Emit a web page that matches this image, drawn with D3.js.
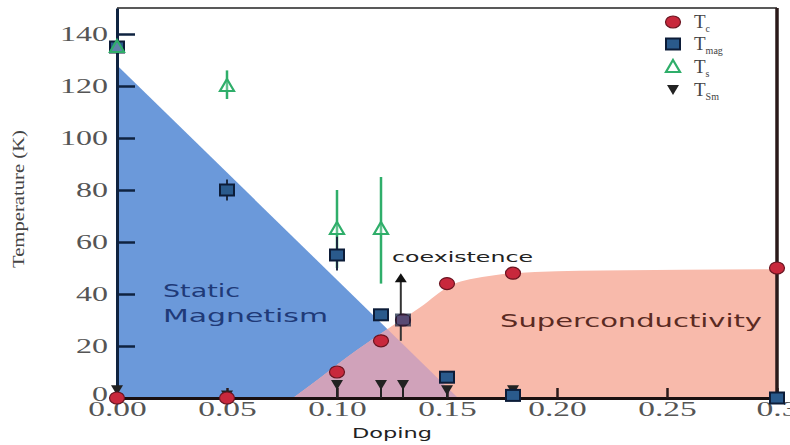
<!DOCTYPE html>
<html>
<head>
<meta charset="utf-8">
<script src="https://cdn.jsdelivr.net/npm/d3@7"></script>
<style>
  html, body { margin: 0; padding: 0; background: #fff; }
  svg { display: block; }
</style>
</head>
<body>
<svg id="chart" width="790" height="445"></svg>
<script>
// Phase diagram: temperature vs doping
const xTicks = [0, 0.05, 0.10, 0.15, 0.20, 0.25, 0.30];
const xTickLabels = ["0.00", "0.05", "0.10", "0.15", "0.20", "0.25", "0.3"];
const yTicks = [0, 20, 40, 60, 80, 100, 120, 140];

// Superconducting transition Tc
const tcDoping = [0, 0.05, 0.10, 0.12, 0.13, 0.15, 0.18, 0.30];
const tcTemp   = [0, 0, 10, 22, 30, 44, 48, 50];

// Magnetic ordering Tmag
const tmagDoping = [0, 0.05, 0.10, 0.12, 0.13, 0.15, 0.18, 0.30];
const tmagTemp   = [135, 80, 55, 32, 30, 8, 1, 0];
const tmagErrLow  = [135, 76, 49, 32, 30, 8, 1, 0];
const tmagErrHigh = [135, 84, 62, 32, 30, 8, 1, 0];

// Structural transition Ts
const tsDoping = [0, 0.05, 0.10, 0.12];
const tsTemp   = [135, 120, 65, 65];
const tsErrLow  = [135, 115, 50, 44];
const tsErrHigh = [135, 126, 80, 85];

// Tsm
const tsmDoping = [0, 0.05, 0.10, 0.12, 0.13, 0.15, 0.18];
const tsmTemp   = [3, 1, 5, 5, 5, 3, 3];

// Phase regions (doping, temperature)
const magnetismRegion = [[0, 0], [0, 128], [0.155, 0]];
const scEdge = [[0.08, 0], [0.088, 5], [0.105, 16], [0.122, 26], [0.138, 35], [0.151, 43],
                [0.166, 46.5], [0.18, 48], [0.22, 49], [0.3, 49.5]];

// Coexistence arrow
const coexDoping = 0.129;
const coexFrom = 22;
const coexTo = 48;

const legendLabels = [["T", "c"], ["T", "mag"], ["T", "s"], ["T", "Sm"]];

const svg = d3.select("#chart");
const x = d3.scaleLinear().domain([0, 0.3]).range([117, 777]);
const y = d3.scaleLinear().domain([0, 150]).range([398, 8]);

const area = d3.line().x(d => x(d[0])).y(d => y(d[1]));
const scCurve = d3.line().x(d => x(d[0])).y(d => y(d[1])).curve(d3.curveMonotoneX);
const scPath = scCurve(scEdge) + `L${x(0.3)},${y(0)}Z`;

// Regions
const defs = svg.append("defs");
defs.append("clipPath").attr("id", "magClip")
  .append("path").attr("d", area(magnetismRegion) + "Z");

svg.append("path").attr("d", area(magnetismRegion) + "Z")
  .attr("fill", "#6b99da");
svg.append("path").attr("d", scPath)
  .attr("fill", "#f8baab");
svg.append("path").attr("d", scPath)
  .attr("fill", "#d0a2ba")
  .attr("clip-path", "url(#magClip)");

// Frame top & right
svg.append("line").attr("x1", x(0)).attr("x2", x(0.3)).attr("y1", y(150)).attr("y2", y(150))
  .attr("stroke", "#222").attr("stroke-width", 1.5);
svg.append("line").attr("x1", x(0.3)).attr("x2", x(0.3)).attr("y1", y(150)).attr("y2", y(0))
  .attr("stroke", "#2a1a1a").attr("stroke-width", 3.5);

// Axes
const yAxis = d3.axisLeft(y).tickValues(yTicks).tickSize(-18).tickPadding(9).tickSizeOuter(0);
const gy = svg.append("g").attr("transform", `translate(${x(0)},0)`).call(yAxis);
gy.select(".domain").attr("stroke", "#0f2340").attr("stroke-width", 3);
gy.selectAll(".tick line").attr("stroke", "#0f2340").attr("stroke-width", 2.5);
gy.selectAll(".tick text")
  .attr("font-family", "'Liberation Serif', serif").attr("font-size", 20).attr("fill", "#555")
  .attr("textLength", d => String(d).length * 16).attr("lengthAdjust", "spacingAndGlyphs");
gy.selectAll(".tick").filter(d => d === 0).select("text").attr("dy", "0.1em");

const xAxis = d3.axisBottom(x).tickValues(xTicks).tickSize(-10).tickPadding(4).tickSizeOuter(0)
  .tickFormat((d, i) => xTickLabels[i]);
const gx = svg.append("g").attr("transform", `translate(0,${y(0)})`).call(xAxis);
gx.select(".domain").attr("stroke", "#1a1010").attr("stroke-width", 3);
gx.selectAll(".tick line").attr("stroke", "#2a1a1a").attr("stroke-width", 2.5);
gx.selectAll(".tick text")
  .attr("font-family", "'Liberation Serif', serif").attr("font-size", 20).attr("fill", "#555")
  .attr("textLength", (d, i) => (xTickLabels[i].length - 1) * 16.5 + 9)
  .attr("lengthAdjust", "spacingAndGlyphs");

// Axis titles
svg.append("text").attr("transform", `translate(24,${199}) rotate(-90)`)
  .attr("text-anchor", "middle").attr("font-family", "'Liberation Sans Narrow', 'Liberation Serif', serif")
  .attr("font-size", 17).attr("fill", "#444")
  .attr("textLength", 138).attr("lengthAdjust", "spacingAndGlyphs")
  .text("Temperature (K)");
svg.append("text").attr("x", 392).attr("y", 438).attr("text-anchor", "middle")
  .attr("font-family", "'DejaVu Sans', sans-serif").attr("font-size", 14).attr("fill", "#222")
  .attr("textLength", 80).attr("lengthAdjust", "spacingAndGlyphs")
  .text("Doping");

// Region labels
const lbl = svg.append("g").attr("font-family", "'DejaVu Sans', sans-serif").attr("font-size", 17);
lbl.append("text").attr("x", 163).attr("y", 297).attr("fill", "#1f3a78")
  .attr("textLength", 77).attr("lengthAdjust", "spacingAndGlyphs").text("Static");
lbl.append("text").attr("x", 163).attr("y", 322).attr("fill", "#1f3a78")
  .attr("textLength", 165).attr("lengthAdjust", "spacingAndGlyphs").text("Magnetism");
lbl.append("text").attr("x", 500).attr("y", 327).attr("fill", "#5a2a22")
  .attr("textLength", 262).attr("lengthAdjust", "spacingAndGlyphs").text("Superconductivity");
svg.append("text").attr("x", 392).attr("y", 262).attr("fill", "#222")
  .attr("font-family", "'DejaVu Sans', sans-serif").attr("font-size", 14)
  .attr("textLength", 141).attr("lengthAdjust", "spacingAndGlyphs").text("coexistence");

// Coexistence arrow
svg.append("line").attr("x1", x(coexDoping)).attr("x2", x(coexDoping))
  .attr("y1", y(coexFrom)).attr("y2", y(coexTo) + 8)
  .attr("stroke", "#333").attr("stroke-width", 2);
svg.append("path")
  .attr("d", `M${x(coexDoping)},${y(coexTo)} l-6,9 l12,0 Z`)
  .attr("fill", "#111");

// Error bars
const errG = svg.append("g");
tsDoping.forEach((d, i) => {
  if (tsErrHigh[i] === tsErrLow[i]) return;
  errG.append("line").attr("x1", x(d)).attr("x2", x(d))
    .attr("y1", y(tsErrLow[i])).attr("y2", y(tsErrHigh[i]))
    .attr("stroke", "#2fae6a").attr("stroke-width", 2.5);
});
tmagDoping.forEach((d, i) => {
  if (tmagErrHigh[i] === tmagErrLow[i]) return;
  errG.append("line").attr("x1", x(d)).attr("x2", x(d))
    .attr("y1", y(tmagErrLow[i])).attr("y2", y(tmagErrHigh[i]))
    .attr("stroke", "#1d2a40").attr("stroke-width", 2);
});
tsmDoping.forEach((d, i) => {
  errG.append("line").attr("x1", x(d)).attr("x2", x(d))
    .attr("y1", y(0)).attr("y2", y(tsmTemp[i]))
    .attr("stroke", "#222").attr("stroke-width", 2);
});

// Marker shapes
const circleMark = (g, cx, cy) => g.append("ellipse").attr("cx", cx).attr("cy", cy)
  .attr("rx", 7.5).attr("ry", 6).attr("fill", "#c8283c").attr("stroke", "#6a1420").attr("stroke-width", 1.2);
const squareMark = (g, cx, cy, op) => g.append("rect").attr("x", cx - 7).attr("y", cy - 5.5)
  .attr("width", 14).attr("height", 11).attr("fill", "#2a5a8c").attr("stroke", "#0c1c38")
  .attr("stroke-width", 2).attr("opacity", op == null ? 1 : op);
const upTriMark = (g, cx, cy) => g.append("path")
  .attr("d", `M${cx},${cy - 7} L${cx + 7},${cy + 5} L${cx - 7},${cy + 5} Z`)
  .attr("fill", "rgba(255,255,255,0.25)").attr("stroke", "#2fae6a").attr("stroke-width", 2.2);
const downTriMark = (g, cx, cy) => g.append("path")
  .attr("d", `M${cx - 6},${cy - 5} L${cx + 6},${cy - 5} L${cx},${cy + 5} Z`)
  .attr("fill", "#222");

const marks = svg.append("g");
tsmDoping.forEach((d, i) => downTriMark(marks, x(d), y(tsmTemp[i])));
tcDoping.forEach((d, i) => circleMark(marks, x(d), y(tcTemp[i])));
tmagDoping.forEach((d, i) => squareMark(marks, x(d), y(tmagTemp[i]), d === 0.13 ? 0.7 : 1));
tsDoping.forEach((d, i) => upTriMark(marks, x(d), y(tsTemp[i])));

// Legend
const leg = svg.append("g");
const legX = 673, legYs = [22, 44, 67, 90];
circleMark(leg, legX, legYs[0]);
squareMark(leg, legX, legYs[1]);
upTriMark(leg, legX, legYs[2]);
downTriMark(leg, legX, legYs[3]);
legendLabels.forEach((lab, i) => {
  const t = leg.append("text").attr("x", 694).attr("y", legYs[i] + 6)
    .attr("font-family", "'Liberation Serif', serif").attr("font-size", 19).attr("fill", "#444");
  t.append("tspan").text(lab[0]);
  t.append("tspan").attr("dy", 4).attr("font-size", 10).text(lab[1]);
});
</script>
</body>
</html>
